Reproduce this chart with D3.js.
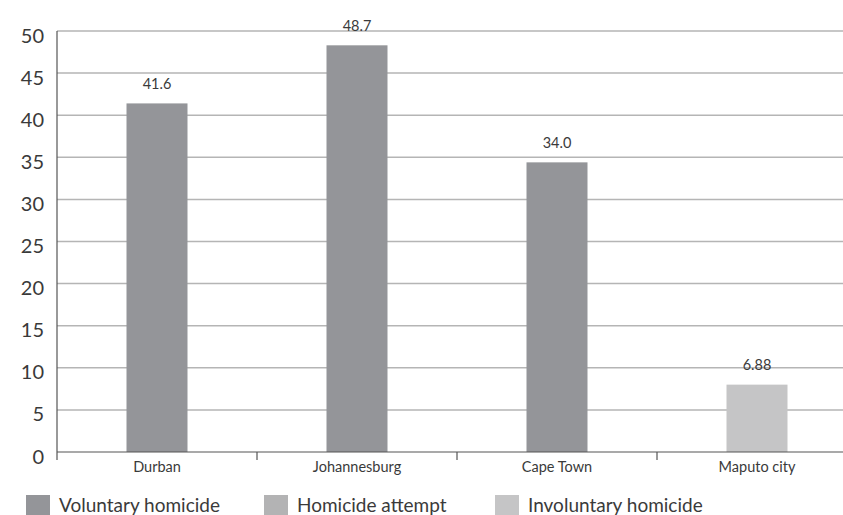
<!DOCTYPE html>
<html>
<head>
<meta charset="utf-8">
<script src="https://cdn.jsdelivr.net/npm/d3@7"></script>
<style>
  html, body { margin: 0; padding: 0; background: #fff; }
  svg { display: block; font-family: Lato, "Open Sans", sans-serif; }
</style>
</head>
<body>
<svg id="chart" width="843" height="515"></svg>
<script>
// ---- data ----
const categories = ["Durban", "Johannesburg", "Cape Town", "Maputo city"];
const seriesNames = ["Voluntary homicide", "Homicide attempt", "Involuntary homicide"];
const seriesColors = ["#949599", "#b3b3b4", "#c5c5c6"];
// bar heights (one series per city)
const voluntary = [41.4, 48.3, 34.4, 0];
const attempt = [0, 0, 0, 0];
const involuntary = [0, 0, 0, 8.0];
// value labels as printed
const valueLabels = ["41.6", "48.7", "34.0", "6.88"];
const yTicks = [0, 5, 10, 15, 20, 25, 30, 35, 40, 45, 50];

// ---- layout ----
const svg = d3.select("#chart");
const mLeft = 57, mRight = 857, mTop = 31, mBottom = 452;
const textColor = "#3a3a3a";

const x = d3.scaleBand().domain(categories).range([mLeft, mRight]).padding(0);
const y = d3.scaleLinear().domain([0, 50]).range([mBottom, mTop]);

const barW = x.bandwidth() * 0.305;

// gridlines
svg.append("g").selectAll("line").data(yTicks.filter(d => d > 0)).join("line")
  .attr("x1", mLeft).attr("x2", 843)
  .attr("y1", d => y(d)).attr("y2", d => y(d))
  .attr("stroke", "#b5b5b5").attr("stroke-width", 1.5);

// bars
const seriesData = [voluntary, attempt, involuntary];
const bars = [];
categories.forEach((c, i) => {
  seriesData.forEach((s, k) => {
    if (s[i] > 0) bars.push({cat: c, value: s[i], color: seriesColors[k], label: valueLabels[i]});
  });
});

svg.append("g").selectAll("rect").data(bars).join("rect")
  .attr("x", d => x(d.cat) + x.bandwidth() / 2 - barW / 2)
  .attr("width", barW)
  .attr("y", d => y(d.value))
  .attr("height", d => y(0) - y(d.value))
  .attr("fill", d => d.color);

svg.append("g").selectAll("text").data(bars).join("text")
  .attr("x", d => x(d.cat) + x.bandwidth() / 2)
  .attr("y", d => y(d.value) - 14.5)
  .attr("text-anchor", "middle")
  .attr("font-size", 14.5)
  .attr("fill", textColor)
  .text(d => d.label);

// y axis
const yAxis = d3.axisLeft(y).tickValues(yTicks).tickSize(0).tickPadding(13).tickFormat(d3.format("d"));
const gy = svg.append("g").attr("transform", `translate(${mLeft},0)`).call(yAxis);
gy.select(".domain").remove();
gy.selectAll("text").attr("font-size", 20).attr("fill", textColor)
  .attr("font-family", "Lato, sans-serif").attr("dy", "0.55em");
svg.append("line").attr("x1", mLeft).attr("x2", mLeft).attr("y1", mTop).attr("y2", mBottom + 8)
  .attr("stroke", "#555").attr("stroke-width", 1.2);

// x axis
const xAxis = d3.axisBottom(x).tickSize(0).tickPadding(10);
const gx = svg.append("g").attr("transform", `translate(0,${mBottom})`).call(xAxis);
gx.select(".domain").remove();
gx.selectAll("text").attr("font-size", 14.5).attr("fill", textColor).attr("font-family", "Lato, sans-serif");
svg.append("line").attr("x1", mLeft).attr("x2", 843).attr("y1", mBottom).attr("y2", mBottom)
  .attr("stroke", "#555").attr("stroke-width", 1.2);
// category separators
svg.append("g").selectAll("line").data(categories.slice(1)).join("line")
  .attr("x1", d => x(d)).attr("x2", d => x(d))
  .attr("y1", mBottom).attr("y2", mBottom + 8)
  .attr("stroke", "#555").attr("stroke-width", 1.2);

// legend
const legendX = [26, 264, 495];
const lg = svg.append("g").selectAll("g").data(seriesNames).join("g")
  .attr("transform", (d, i) => `translate(${legendX[i]},495)`);
lg.append("rect").attr("width", 24).attr("height", 22).attr("fill", (d, i) => seriesColors[i]);
lg.append("text").attr("x", 33).attr("y", 16.5).attr("font-size", 19).attr("fill", textColor).text(d => d);
</script>
</body>
</html>
